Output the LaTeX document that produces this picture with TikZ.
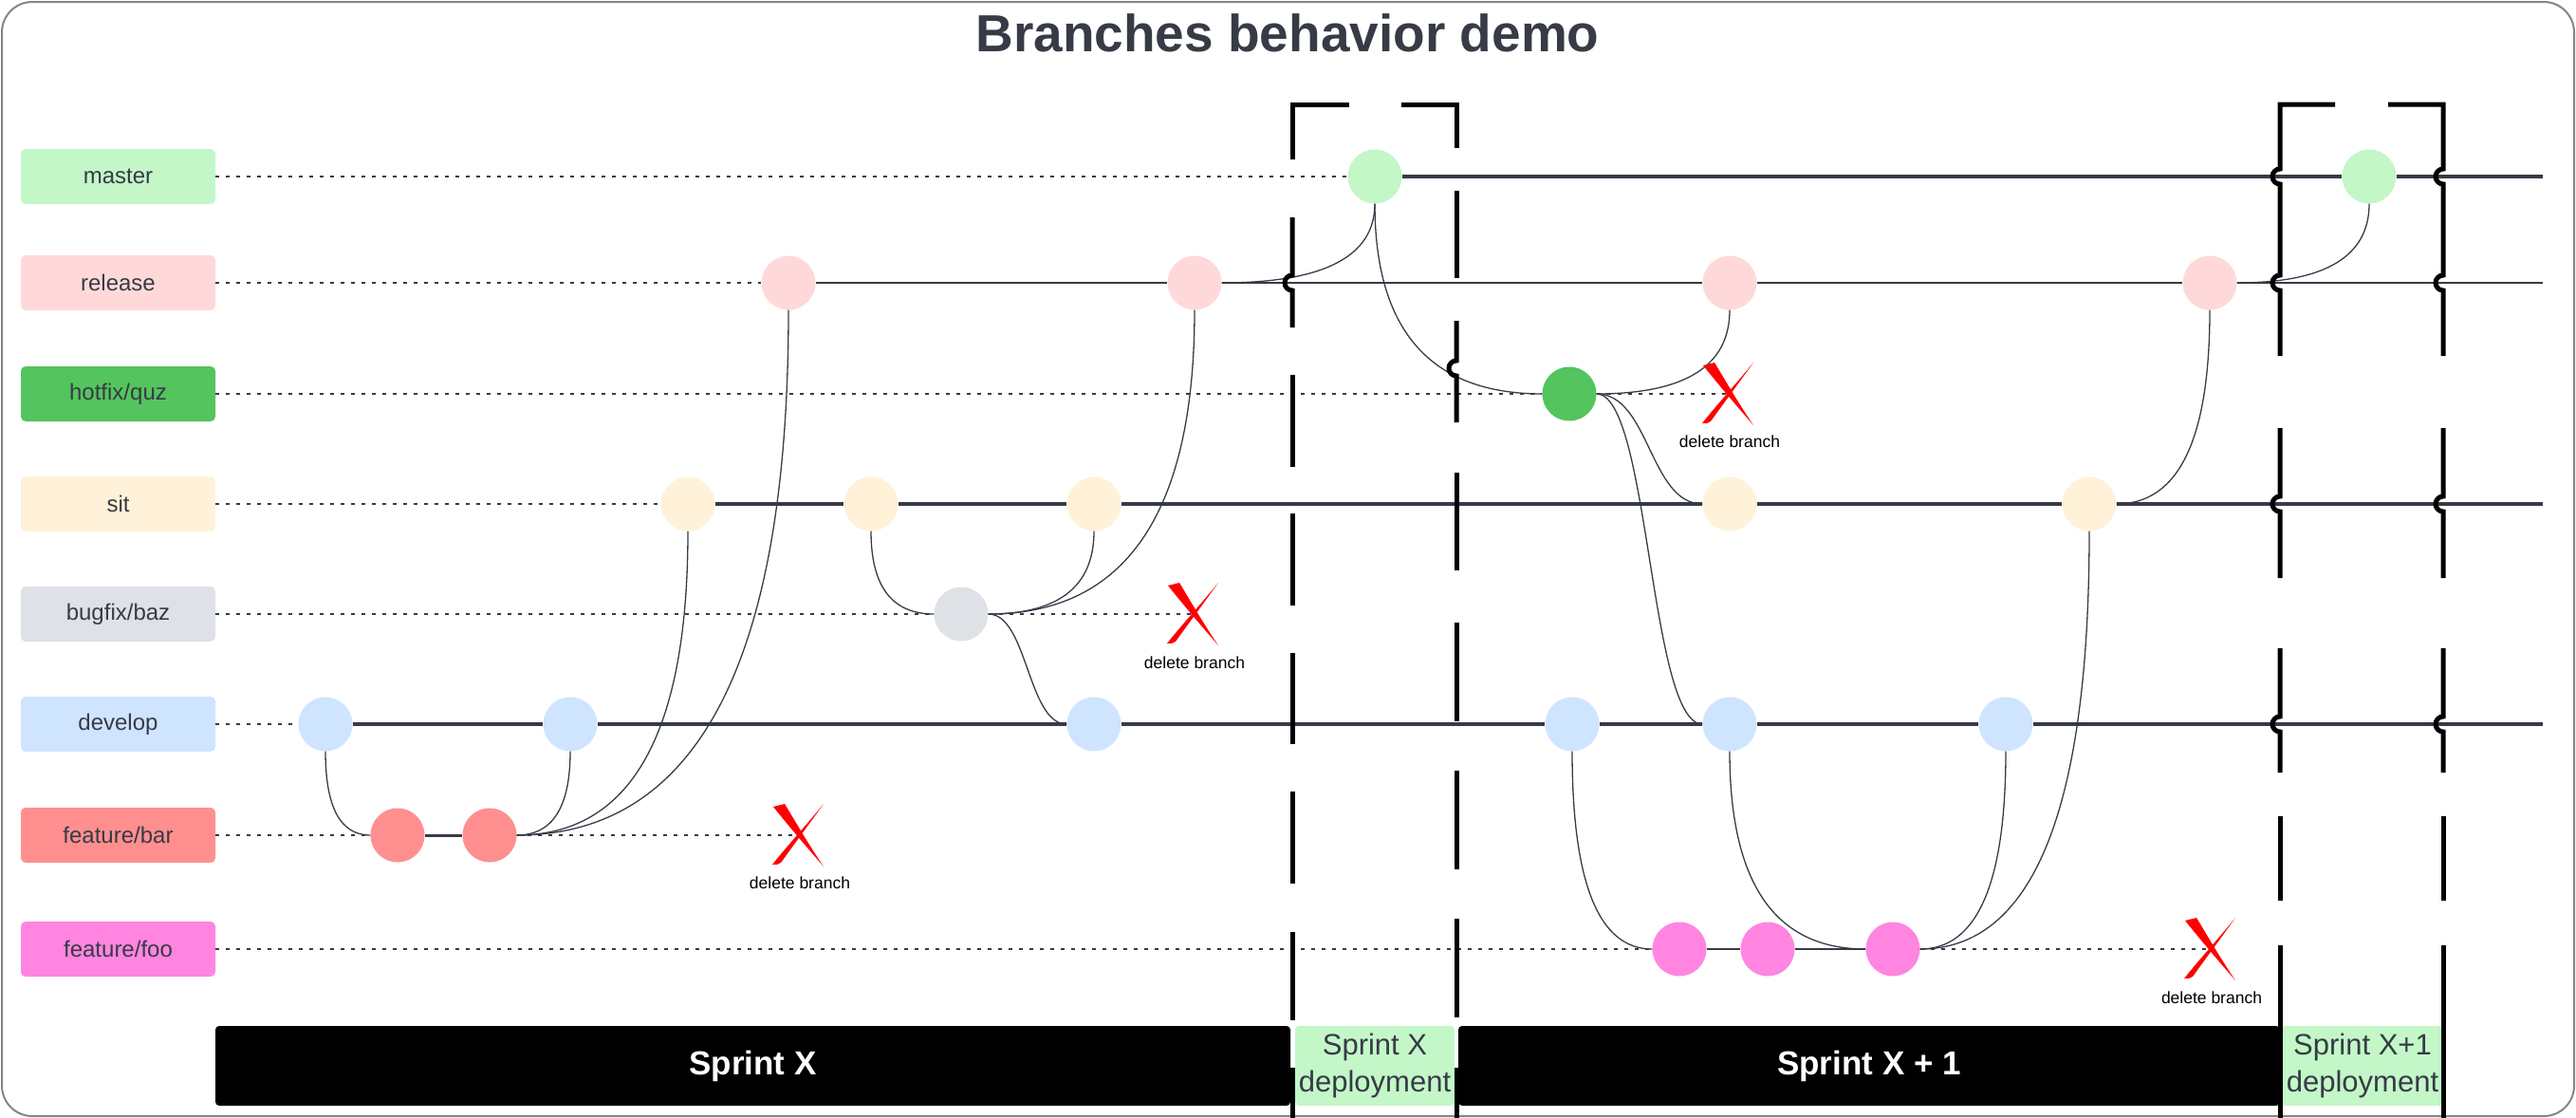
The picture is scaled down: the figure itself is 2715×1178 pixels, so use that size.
\documentclass[tikz,border=0pt]{standalone}
\usepackage{fontspec}
\setmainfont{Liberation Sans}
\usetikzlibrary{calc}
\definecolor{ink}{HTML}{363B45}
\definecolor{cmaster}{HTML}{C3F7C8}
\definecolor{crelease}{HTML}{FFD9D9}
\definecolor{chotfix}{HTML}{54C45E}
\definecolor{csit}{HTML}{FFF2D9}
\definecolor{cbug}{HTML}{DEE1E6}
\definecolor{cdev}{HTML}{CFE4FF}
\definecolor{cbar}{HTML}{FF8F8F}
\definecolor{cfoo}{HTML}{FF85E0}
\definecolor{xred}{HTML}{FF0000}
\definecolor{framegray}{HTML}{858585}
\tikzset{
 lbl/.style={fill=#1, rounded corners=5pt, minimum width=205pt, minimum height=58pt, inner sep=0pt, font=\fontsize{24}{28}\selectfont, text=ink},
 commit/.style={circle, fill=#1, minimum size=57pt, inner sep=0pt},
 dotline/.style={ink, line width=2.5pt, dash pattern=on 4pt off 7pt},
 mainline/.style={ink, line width=4pt},
 relline/.style={ink, line width=2.2pt},
 featline/.style={ink, line width=2pt},
 merge/.style={ink, line width=1.3pt},
 bracket/.style={black, line width=5pt},
 sprint/.style={fill=black, rounded corners=4pt, minimum height=84pt, inner sep=0pt, text=white, font=\fontsize{35}{40}\selectfont\bfseries},
 deploy/.style={fill=cmaster, rounded corners=4pt, minimum height=84pt, inner sep=0pt, text=ink, align=center, font=\fontsize{31}{39}\selectfont},
 delnote/.style={font=\fontsize{17.5}{20}\selectfont, text=black},
 redx/.pic={
  \fill[xred] (-28,30) -- (-16,33) .. controls (-5,15) and (8,-8) .. (25,-33)
     .. controls (5,-10) and (-12,10) .. (-28,30) -- cycle;
  \fill[xred] (25,33) .. controls (10,12) and (-10,-15) .. (-20,-29)
     .. controls (-22,-31) and (-25,-31) .. (-29,-31)
     .. controls (-14,-12) and (8,12) .. (25,33) -- cycle;
 }
}
\newcommand\mergeHV[2]{\coordinate (kk) at (#2 |- #1);
 \draw[merge] (#1) .. controls ($(#1)!0.667!(kk)$) and ($(#2)!0.667!(kk)$) .. (#2);}
\newcommand\mergeVH[2]{\coordinate (kk) at (#1 |- #2);
 \draw[merge] (#1) .. controls ($(#1)!0.667!(kk)$) and ($(#2)!0.667!(kk)$) .. (#2);}
\newcommand\mergeS[2]{\coordinate (kk) at ($(#1)!0.5!(#2)$);
 \draw[merge] (#1) .. controls (kk |- #1) and (kk |- #2) .. (#2);}
\begin{document}
\begin{tikzpicture}[x=1pt,y=1pt]
\useasboundingbox (0,0) rectangle (2715,-1178);
\draw[framegray, line width=2pt, rounded corners=32pt] (2,-2) rectangle (2713,-1176);
\node[anchor=base, font=\fontsize{55}{60}\selectfont\bfseries, text=ink] (title) at (1357,-54) {Branches behavior demo};

% sprint bar
\node[sprint, minimum width=1133pt] (spx) at (793.5,-1123) {Sprint X};
\node[deploy, minimum width=168pt] (dep1) at (1449,-1123) {Sprint X\\deployment};
\node[sprint, minimum width=866pt] (spx1) at (1970,-1123) {Sprint X + 1};
\node[deploy, minimum width=170pt] (dep2) at (2490,-1123) {Sprint X+1\\deployment};

% labels
\node[lbl=cmaster] (Lmaster) at (124.5,-186) {master};
\node[lbl=crelease] (Lrel) at (124.5,-298) {release};
\node[lbl=chotfix] (Lhot) at (124.5,-415) {hotfix/quz};
\node[lbl=csit] (Lsit) at (124.5,-531) {sit};
\node[lbl=cbug] (Lbug) at (124.5,-647) {bugfix/baz};
\node[lbl=cdev] (Ldev) at (124.5,-763) {develop};
\node[lbl=cbar] (Lbar) at (124.5,-880) {feature/bar};
\node[lbl=cfoo] (Lfoo) at (124.5,-1000) {feature/foo};

% commits
\node[commit=cmaster] (m1) at (1449,-186) {};
\node[commit=cmaster] (m2) at (2497,-186) {};
\node[commit=crelease] (r1) at (831,-298) {};
\node[commit=crelease] (r2) at (1259,-298) {};
\node[commit=crelease] (r3) at (1823,-298) {};
\node[commit=crelease] (r4) at (2329,-298) {};
\node[commit=chotfix] (h1) at (1654,-415) {};
\node[commit=csit] (s1) at (725,-531) {};
\node[commit=csit] (s2) at (918,-531) {};
\node[commit=csit] (s3) at (1153,-531) {};
\node[commit=csit] (s4) at (1823,-531) {};
\node[commit=csit] (s5) at (2202,-531) {};
\node[commit=cbug] (b1) at (1013,-647) {};
\node[commit=cdev] (d1) at (343,-763) {};
\node[commit=cdev] (d2) at (601,-763) {};
\node[commit=cdev] (d3) at (1153,-763) {};
\node[commit=cdev] (d4) at (1657,-763) {};
\node[commit=cdev] (d5) at (1823,-763) {};
\node[commit=cdev] (d6) at (2114,-763) {};
\node[commit=cbar] (fb1) at (419,-880) {};
\node[commit=cbar] (fb2) at (516,-880) {};
\node[commit=cfoo] (ff1) at (1770,-1000) {};
\node[commit=cfoo] (ff2) at (1863,-1000) {};
\node[commit=cfoo] (ff3) at (1995,-1000) {};

% ends and delete marks
\coordinate (mEnd) at (2680,-186);
\coordinate (rEnd) at (2680,-298);
\coordinate (sEnd) at (2680,-531);
\coordinate (dEnd) at (2680,-763);
\coordinate (xbar) at (843,-880);
\coordinate (xbug) at (1259,-647);
\coordinate (xhot) at (1823,-415);
\coordinate (xfoo) at (2331,-1000);

% branch lines
\draw[dotline] (Lmaster.east) -- (m1.west);
\draw[mainline] (m1.east) -- (m2.west) (m2.east) -- (mEnd);
\draw[dotline] (Lrel.east) -- (r1.west);
\draw[relline] (r1.east) -- (r2.west) (r2.east) -- (r3.west) (r3.east) -- (r4.west) (r4.east) -- (rEnd);
\draw[dotline] (Lhot.east) -- (h1.west) (h1.east) -- (xhot);
\draw[dotline] (Lsit.east) -- (s1.west);
\draw[mainline] (s1.east) -- (s2.west) (s2.east) -- (s3.west) (s3.east) -- (s4.west) (s4.east) -- (s5.west) (s5.east) -- (sEnd);
\draw[dotline] (Lbug.east) -- (b1.west) (b1.east) -- (xbug);
\draw[dotline] (Ldev.east) -- (d1.west);
\draw[mainline] (d1.east) -- (d2.west) (d2.east) -- (d3.west) (d3.east) -- (d4.west) (d4.east) -- (d5.west) (d5.east) -- (d6.west) (d6.east) -- (dEnd);
\draw[dotline] (Lbar.east) -- (fb1.west) (fb2.east) -- (xbar);
\draw[ink, line width=3pt] (fb1.east) -- (fb2.west);
\draw[dotline] (Lfoo.east) -- (ff1.west) (ff3.east) -- (xfoo);
\draw[featline] (ff1.east) -- (ff2.west) (ff2.east) -- (ff3.west);

% merges
\mergeVH{d1.south}{fb1.west}
\mergeHV{fb2.east}{d2.south}
\mergeHV{fb2.east}{s1.south}
\mergeHV{fb2.east}{r1.south}
\mergeVH{s2.south}{b1.west}
\mergeHV{b1.east}{s3.south}
\mergeHV{b1.east}{r2.south}
\mergeS{b1.east}{d3.west}
\mergeHV{r2.east}{m1.south}
\mergeVH{m1.south}{h1.west}
\mergeHV{h1.east}{r3.south}
\mergeS{h1.east}{s4.west}
\mergeS{h1.east}{d5.west}
\mergeVH{d4.south}{ff1.west}
\mergeVH{d5.south}{ff3.west}
\mergeHV{ff3.east}{d6.south}
\mergeHV{ff3.east}{s5.south}
\mergeHV{s5.east}{r4.south}
\mergeHV{r4.east}{m2.south}

% delete marks
\pic at (xbar) {redx};
\pic at (xbug) {redx};
\pic at (xhot) {redx};
\pic at (xfoo) {redx};
\node[delnote] (nbar) at (843,-930) {delete branch};
\node[delnote] (nbug) at (1259,-698) {delete branch};
\node[delnote] (nhot) at (1823,-465) {delete branch};
\node[delnote] (nfoo) at (2331,-1051) {delete branch};

% deployment brackets
\draw[bracket] (1422,-110) -- (1362,-110) -- (1362,-168);
\draw[bracket] (1362,-229) -- (1362,-290) arc[start angle=90,end angle=270,radius=8] -- (1362,-345);
\draw[bracket] (1362,-395) -- (1362,-492);
\draw[bracket] (1362,-541) -- (1362,-638);
\draw[bracket] (1362,-688) -- (1362,-784);
\draw[bracket] (1362,-834) -- (1362,-931);
\draw[bracket] (1362,-982) -- (1362,-1075);
\draw[bracket] (1362,-1125) -- (1362,-1178);

\draw[bracket] (1477,-110) -- (1535,-110) -- (1535,-156);
\draw[bracket] (1535,-201) -- (1535,-293);
\draw[bracket] (1535,-338) -- (1535,-380) arc[start angle=90,end angle=270,radius=8] -- (1535,-445);
\draw[bracket] (1535,-498) -- (1535,-601);
\draw[bracket] (1535,-656) -- (1535,-760);
\draw[bracket] (1535,-812) -- (1535,-916);
\draw[bracket] (1535,-968) -- (1535,-1072);
\draw[bracket] (1535,-1125) -- (1535,-1178);

\foreach \bx/\hx in {2403/2461, 2575/2517} {
 \draw[bracket] (\hx,-110) -- (\bx,-110) -- (\bx,-178)
   arc[start angle=90,end angle=270,radius=8] -- (\bx,-290)
   arc[start angle=90,end angle=270,radius=8] -- (\bx,-375);
 \draw[bracket] (\bx,-451) -- (\bx,-523) arc[start angle=90,end angle=270,radius=8] -- (\bx,-609);
 \draw[bracket] (\bx,-683) -- (\bx,-755) arc[start angle=90,end angle=270,radius=8] -- (\bx,-814);
 \draw[bracket] (\bx,-860) -- (\bx,-949);
 \draw[bracket] (\bx,-996) -- (\bx,-1178);
}
\end{tikzpicture}
\end{document}
